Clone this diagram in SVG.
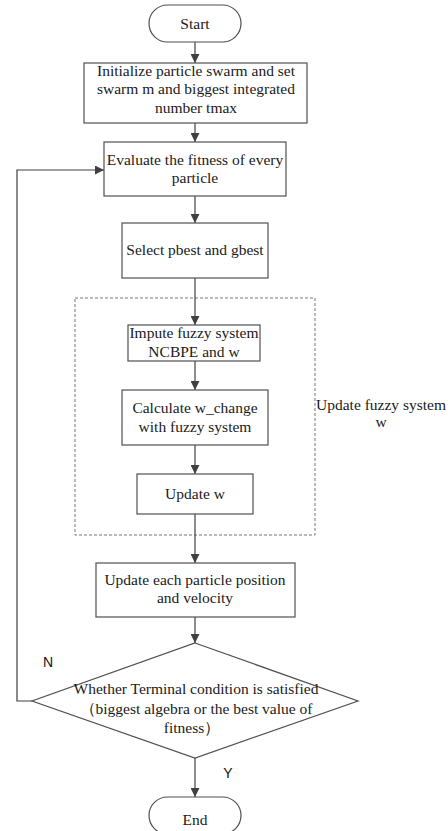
<svg xmlns="http://www.w3.org/2000/svg" width="448" height="831" viewBox="0 0 448 831">
<defs>
<marker id="arr" viewBox="0 0 10 10" refX="10" refY="5" markerWidth="9" markerHeight="9" markerUnits="userSpaceOnUse" orient="auto">
<path d="M0,0 L10,5 L0,10 Z" fill="#404040"/>
</marker>
<style>
.box{fill:#fff;stroke:#505050;stroke-width:1.2}
.t{font-family:'Liberation Serif','DejaVu Serif',serif;font-size:15.5px;fill:#1a1a1a;text-anchor:middle}
.s{font-family:'Liberation Sans',Arial,sans-serif;font-size:14px;fill:#111;text-anchor:middle}
.c{fill:none;stroke:#404040;stroke-width:1.2}
.dash{fill:none;stroke:#777;stroke-width:1;stroke-dasharray:3,2}
</style>
</defs>
<rect width="448" height="831" fill="#fff"/>
<g id="group-fuzzy">
<rect class="dash" x="75" y="298" width="240" height="237"/>
<text class="t" x="381" y="410">Update fuzzy system</text>
<text class="t" x="381" y="427">w</text>
</g>
<g id="connectors">
<line class="c" x1="195" y1="42" x2="195" y2="63" marker-end="url(#arr)"/>
<line class="c" x1="195" y1="123" x2="195" y2="142" marker-end="url(#arr)"/>
<line class="c" x1="195" y1="196" x2="195" y2="223" marker-end="url(#arr)"/>
<line class="c" x1="195" y1="278" x2="195" y2="325" marker-end="url(#arr)"/>
<line class="c" x1="195" y1="361" x2="195" y2="390" marker-end="url(#arr)"/>
<line class="c" x1="195" y1="445" x2="195" y2="474" marker-end="url(#arr)"/>
<line class="c" x1="195" y1="514" x2="195" y2="563" marker-end="url(#arr)"/>
<line class="c" x1="195" y1="617" x2="195" y2="643" marker-end="url(#arr)"/>
<line class="c" x1="195" y1="758" x2="195" y2="797" marker-end="url(#arr)"/>
<polyline class="c" points="32,701 17,701 17,170 104,170" marker-end="url(#arr)"/>
<text class="s" x="48" y="667">N</text>
<text class="s" x="228" y="778">Y</text>
</g>
<g id="start">
<rect class="box" x="149" y="5" width="92" height="37" rx="18.5"/>
<text class="t" x="195" y="29">Start</text>
</g>
<g id="init">
<rect class="box" x="84" y="63" width="223" height="60"/>
<text class="t" x="196" y="76">Initialize particle swarm and set</text>
<text class="t" x="196" y="94">swarm m and biggest integrated</text>
<text class="t" x="196" y="113">number tmax</text>
</g>
<g id="evaluate">
<rect class="box" x="104" y="142" width="182" height="54"/>
<text class="t" x="195" y="165">Evaluate the fitness of every</text>
<text class="t" x="195" y="183">particle</text>
</g>
<g id="select">
<rect class="box" x="122" y="223" width="146" height="55"/>
<text class="t" x="195" y="255">Select pbest and gbest</text>
</g>
<g id="impute">
<rect class="box" x="128" y="325" width="132" height="36"/>
<text class="t" x="194" y="338">Impute fuzzy system</text>
<text class="t" x="194" y="357">NCBPE and w</text>
</g>
<g id="calculate">
<rect class="box" x="122" y="390" width="146" height="55"/>
<text class="t" x="195" y="413">Calculate w_change</text>
<text class="t" x="195" y="432">with fuzzy system</text>
</g>
<g id="update-w">
<rect class="box" x="137" y="474" width="116" height="40"/>
<text class="t" x="195" y="499">Update w</text>
</g>
<g id="update-each">
<rect class="box" x="96" y="563" width="199" height="54"/>
<text class="t" x="195" y="585">Update each particle position</text>
<text class="t" x="195" y="603">and velocity</text>
</g>
<g id="decision">
<polygon class="box" points="195,643 358,701 195,758 32,701"/>
<text class="t" x="196" y="694">Whether Terminal condition is satisfied</text>
<text class="t" x="196" y="714">（biggest algebra or the best value of</text>
<text class="t" x="192" y="733">fitness）</text>
</g>
<g id="end">
<rect class="box" x="149" y="797" width="92" height="37" rx="18.5"/>
<text class="t" x="195" y="825">End</text>
</g>
</svg>
